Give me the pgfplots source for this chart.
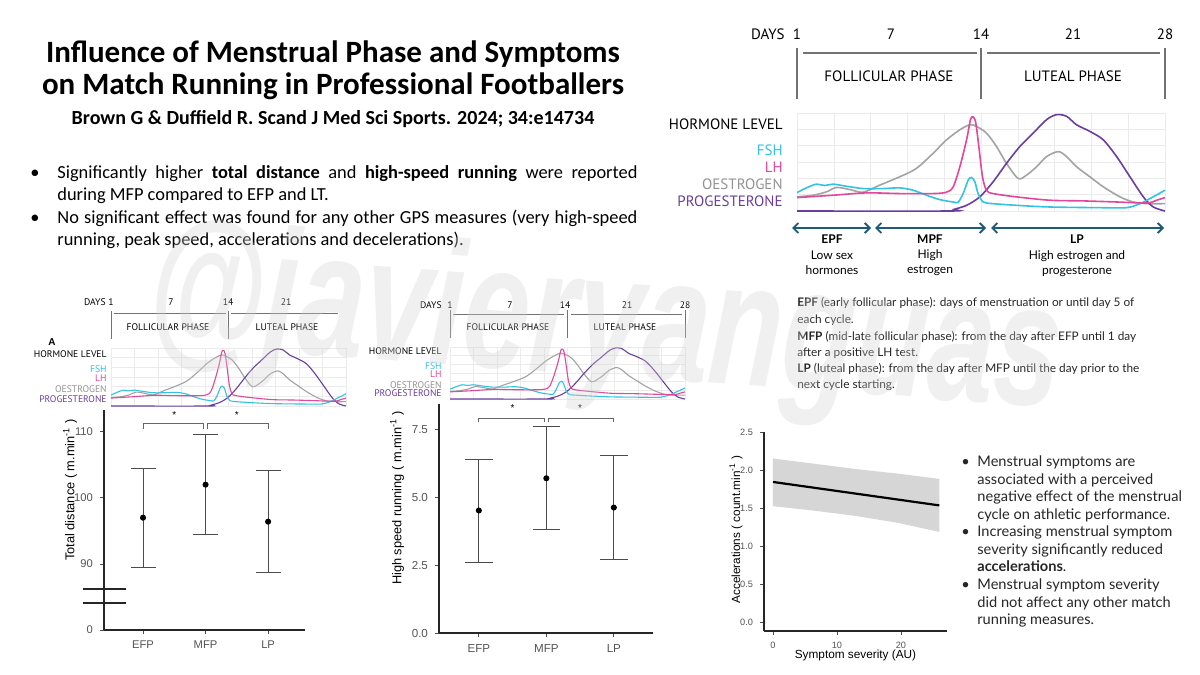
\documentclass[border=0pt]{standalone}
\usepackage{pgfplots}
\pgfplotsset{compat=1.18}
\usepackage{pgfplotstable}
\usepackage{fontspec}
\usetikzlibrary{arrows.meta}
\setmainfont{Carlito}
\newfontfamily\arial{Liberation Sans}
\newfontfamily\hfont{PT Sans}
\newfontfamily\apt{Lato}

\definecolor{fsh}{HTML}{33C2E2}
\definecolor{lh}{HTML}{E0489C}
\definecolor{oes}{HTML}{A3A3A3}
\definecolor{prog}{HTML}{6A3E9E}
\definecolor{arrowc}{HTML}{1E5B78}
\definecolor{ticktxt}{HTML}{555555}

% hormone curves: day of cycle vs relative level
\pgfplotstableread{
day lvl
1.00 0
12.21 0
12.46 1.4
13.44 5.8
14.41 14.4
15.39 29.8
16.37 48.6
17.35 65.8
18.33 79.5
19.31 93.2
20.05 98.3
20.78 96.6
21.51 88.0
22.49 81.2
23.47 72.6
24.45 55.5
25.43 34.9
26.41 14.4
27.14 4.1
28.00 0
}\tprog
\pgfplotstableread{
day lvl
1.00 14.4
2.17 16.1
3.15 19.5
3.89 24.0
4.87 21.9
5.85 19.2
7.07 26.4
8.54 34.9
9.76 43.5
10.99 58.9
11.97 72.6
12.95 82.9
13.68 88.0
14.17 86.3
14.90 79.5
15.64 65.8
16.37 48.6
17.23 33.2
17.84 36.6
18.58 45.2
19.31 55.5
20.17 60.6
20.78 55.5
21.51 45.2
22.49 34.9
23.47 24.7
24.70 14.4
25.67 9.2
26.65 7.5
28.00 7.5
}\toes
\pgfplotstableread{
day lvl
1.00 13.7
3.64 16.1
6.09 18.5
8.54 17.8
10.99 17.8
11.97 19.2
12.46 24.7
12.95 45.2
13.44 72.6
13.73 93.2
13.93 95.9
14.12 89.7
14.37 62.3
14.61 34.9
14.90 21.2
15.39 17.8
17.11 14.4
19.55 11.0
22.00 10.3
24.45 9.2
26.65 8.2
27.39 11.0
28.00 13.7
}\tlh
\pgfplotstableread{
day lvl
1.00 18.8
1.69 23.6
2.42 27.4
3.03 26.0
3.64 27.4
4.62 25.3
5.85 22.9
7.32 22.9
8.54 23.6
9.52 21.2
10.50 16.1
11.48 11.6
12.46 9.2
12.82 8.9
13.19 17.8
13.56 31.5
13.80 34.2
14.05 29.8
14.29 17.8
14.66 9.2
15.39 7.5
17.11 5.8
19.55 4.1
23.22 3.4
25.18 3.4
26.16 7.5
26.90 12.7
28.00 21.2
}\tfsh

\pgfplotsset{
  hormone/.style={scale only axis, anchor=south west, xmin=1, xmax=28, ymin=0, ymax=100,
    axis line style={draw=none}, major tick length=0pt, xticklabels={}, yticklabels={},
    xtick={1,3.7,6.4,9.1,11.8,14.5,17.2,19.9,22.6,25.3,28},
    ytick={0,16.67,33.33,50,66.67,83.33,100},
    grid=major, major grid style={black!8, line width=0.3pt}, clip=false},
  chart/.style={scale only axis, anchor=south west, axis x line*=bottom, axis y line*=left,
    axis line style={black!85, line width=0.6pt, -}, tick align=outside, major tick length=2pt,
    tick style={black!70, line width=0.4pt},
    tick label style={font=\arial\fontsize{5.6}{6}\selectfont, text=ticktxt},
    label style={font=\arial\fontsize{6.4}{7}\selectfont},
    xtick={1,2,3}, xticklabels={EFP,MFP,LP}, clip=false}
}
\newcommand{\hormonecurves}[1]{%
  \addplot[oes, line width=#1, smooth, no markers] table {\toes};
  \addplot[prog, line width=#1, smooth, no markers] table {\tprog};
  \addplot[fsh, line width=#1, smooth, no markers] table {\tfsh};
  \addplot[lh, line width=#1, smooth, no markers] table {\tlh};
}

\begin{document}
% canvas: 1200x675 px, 1 px = 0.5pt; axes are placed in pt (x/2, -y/2)
\begin{tikzpicture}
\begin{scope}[x=0.5pt, y=-0.5pt]
\useasboundingbox (0,0) rectangle (1200,675);
\fill[white] (0,0) rectangle (1200,675);

% title block
\node[anchor=base, inner sep=0, font=\bfseries\fontsize{15.5}{17}\selectfont] at (333,62) {Influence of Menstrual Phase and Symptoms};
\node[anchor=base, inner sep=0, font=\bfseries\fontsize{15.5}{17}\selectfont] at (333,94) {on Match Running in Professional Footballers};
\node[anchor=base, inner sep=0, font=\bfseries\fontsize{10}{11}\selectfont] at (333,124) {Brown G \& Duffield R. Scand J Med Sci Sports. 2024; 34:e14734};

\begin{scope}[font=\fontsize{9.2}{11}\selectfont]
\node[anchor=base west, inner sep=0] at (30,178) {•};
\node[anchor=base west, inner sep=0] at (30,223) {•};
\node[anchor=base west, inner sep=0] at (57,178) {\makebox[290pt][s]{Significantly higher \textbf{total distance} and \textbf{high-speed running} were reported}};
\node[anchor=base west, inner sep=0] at (57,200) {during MFP compared to EFP and LT.};
\node[anchor=base west, inner sep=0] at (57,223) {\makebox[290pt][s]{No significant effect was found for any other GPS measures (very high-speed}};
\node[anchor=base west, inner sep=0] at (57,245) {running, peak speed, accelerations and decelerations).};
\end{scope}

% top-right cycle diagram labels
\begin{scope}[font=\hfont\fontsize{7.5}{8}\selectfont]
\node[anchor=base east, inner sep=0] at (785,39) {DAYS};
\node[anchor=base, inner sep=0] at (797,39) {1};
\node[anchor=base, inner sep=0] at (891,39) {7};
\node[anchor=base, inner sep=0] at (981,39) {14};
\node[anchor=base, inner sep=0] at (1073,39) {21};
\node[anchor=base, inner sep=0] at (1165,39) {28};
\draw[black!55, line width=0.6pt] (797,48) -- (797,99) (981,48) -- (981,99) (1165,48) -- (1165,99);
\draw[black!55, line width=0.6pt] (803,53) -- (977,53) (987,53) -- (1160,53);
\node[anchor=base, inner sep=0] at (889,81) {FOLLICULAR PHASE};
\node[anchor=base, inner sep=0] at (1073,81) {LUTEAL PHASE};
\node[anchor=base east, inner sep=0] at (783,129) {HORMONE LEVEL};
\node[anchor=base east, inner sep=0, text=fsh] at (783,155) {FSH};
\node[anchor=base east, inner sep=0, text=lh] at (783,172) {LH};
\node[anchor=base east, inner sep=0, text=oes!90!black] at (783,189) {OESTROGEN};
\node[anchor=base east, inner sep=0, text=prog] at (783,206) {PROGESTERONE};
\end{scope}
\begin{scope}[arrowc, line width=0.9pt, {Straight Barb[length=2.5pt,width=5pt]}-{Straight Barb[length=2.5pt,width=5pt]}]
\draw (792,228) -- (871,228);
\draw (875,228) -- (986,228);
\draw (991,228) -- (1164,228);
\end{scope}
\begin{scope}[font=\apt\fontsize{6}{7}\selectfont]
\node[anchor=base, inner sep=0] at (832,243) {\textbf{EPF}};
\node[anchor=base, inner sep=0] at (832,259) {Low sex};
\node[anchor=base, inner sep=0] at (832,274) {hormones};
\node[anchor=base, inner sep=0] at (930,243) {\textbf{MPF}};
\node[anchor=base, inner sep=0] at (930,258) {High};
\node[anchor=base, inner sep=0] at (930,273) {estrogen};
\node[anchor=base, inner sep=0] at (1077,243) {\textbf{LP}};
\node[anchor=base, inner sep=0] at (1077,259) {High estrogen and};
\node[anchor=base, inner sep=0] at (1077,274) {progesterone};
\end{scope}

% phase definitions
\begin{scope}[font=\apt\fontsize{5.9}{7}\selectfont, text=black!85]
\node[anchor=base west, inner sep=0] at (797,306) {\textbf{EPF} (early follicular phase): days of menstruation or until day 5 of};
\node[anchor=base west, inner sep=0] at (797,323) {each cycle.};
\node[anchor=base west, inner sep=0] at (797,340) {\textbf{MFP} (mid-late follicular phase): from the day after EFP until 1 day};
\node[anchor=base west, inner sep=0] at (797,356) {after a positive LH test.};
\node[anchor=base west, inner sep=0] at (797,372) {\textbf{LP} (luteal phase): from the day after MFP until the day prior to the};
\node[anchor=base west, inner sep=0] at (797,388) {next cycle starting.};
\end{scope}

% left small cycle diagram labels
\begin{scope}[font=\hfont\fontsize{4.8}{5}\selectfont]
\node[anchor=base west, inner sep=0, font=\arial\bfseries\fontsize{5}{5}\selectfont] at (48,345) {A};
\node[anchor=base east, inner sep=0] at (106,305) {DAYS};
\node[anchor=base, inner sep=0] at (111,305) {1};
\node[anchor=base, inner sep=0] at (171,305) {7};
\node[anchor=base, inner sep=0] at (228,305) {14};
\node[anchor=base, inner sep=0] at (286,305) {21};
\draw[black!55, line width=0.5pt] (111,311) -- (111,339) (228,311) -- (228,339);
\draw[black!55, line width=0.5pt] (114,313) -- (226,313) (231,313) -- (338,313);
\node[anchor=base, inner sep=0] at (168,330) {FOLLICULAR PHASE};
\node[anchor=base, inner sep=0] at (287,330) {LUTEAL PHASE};
\node[anchor=base east, inner sep=0] at (107,357.5) {HORMONE LEVEL};
\node[anchor=base east, inner sep=0, text=fsh] at (107,372.5) {FSH};
\node[anchor=base east, inner sep=0, text=lh] at (107,381.5) {LH};
\node[anchor=base east, inner sep=0, text=oes!90!black] at (107,392) {OESTROGEN};
\node[anchor=base east, inner sep=0, text=prog] at (107,402) {PROGESTERONE};
\end{scope}

% middle small cycle diagram labels
\begin{scope}[font=\hfont\fontsize{4.8}{5}\selectfont]
\node[anchor=base east, inner sep=0] at (442,308) {DAYS};
\node[anchor=base, inner sep=0] at (450,308) {1};
\node[anchor=base, inner sep=0] at (510,308) {7};
\node[anchor=base, inner sep=0] at (565,308) {14};
\node[anchor=base, inner sep=0] at (627,308) {21};
\node[anchor=base, inner sep=0] at (685,308) {28};
\draw[black!55, line width=0.5pt] (450,310) -- (450,338) (567,310) -- (567,338) (685,310) -- (685,338);
\draw[black!55, line width=0.5pt] (453,314) -- (564,314) (571,314) -- (682,314);
\node[anchor=base, inner sep=0] at (508,330) {FOLLICULAR PHASE};
\node[anchor=base, inner sep=0] at (625,330) {LUTEAL PHASE};
\node[anchor=base east, inner sep=0] at (442,354.5) {HORMONE LEVEL};
\node[anchor=base east, inner sep=0, text=fsh] at (442,369) {FSH};
\node[anchor=base east, inner sep=0, text=lh] at (442,377.5) {LH};
\node[anchor=base east, inner sep=0, text=oes!90!black] at (442,388) {OESTROGEN};
\node[anchor=base east, inner sep=0, text=prog] at (442,396.5) {PROGESTERONE};
\end{scope}

% right notes
\begin{scope}[font=\apt\fontsize{7.3}{8}\selectfont, text=black!85]
\node[anchor=base west, inner sep=0] at (961,466) {•};
\node[anchor=base west, inner sep=0] at (961,536) {•};
\node[anchor=base west, inner sep=0] at (961,589) {•};
\node[anchor=base west, inner sep=0] at (977,466) {Menstrual symptoms are};
\node[anchor=base west, inner sep=0] at (977,484) {associated with a perceived};
\node[anchor=base west, inner sep=0] at (977,501) {negative effect of the menstrual};
\node[anchor=base west, inner sep=0] at (977,519) {cycle on athletic performance.};
\node[anchor=base west, inner sep=0] at (977,536) {Increasing menstrual symptom};
\node[anchor=base west, inner sep=0] at (977,554) {severity significantly reduced};
\node[anchor=base west, inner sep=0] at (977,571) {\textbf{accelerations}.};
\node[anchor=base west, inner sep=0] at (977,589) {Menstrual symptom severity};
\node[anchor=base west, inner sep=0] at (977,607) {did not affect any other match};
\node[anchor=base west, inner sep=0] at (977,624) {running measures.};
\end{scope}
\end{scope}

% top-right cycle diagram
\begin{axis}[hormone, at={(398.5pt,-105.5pt)}, width=184pt, height=49pt]
\hormonecurves{0.8pt}
\end{axis}

% left small cycle diagram
\begin{axis}[hormone, at={(55.5pt,-203pt)}, width=117.5pt, height=29pt]
\hormonecurves{0.55pt}
\end{axis}

% middle small cycle diagram
\begin{axis}[hormone, at={(225pt,-199.5pt)}, width=117.5pt, height=26pt]
\hormonecurves{0.55pt}
\end{axis}

% total distance by phase (mean and error bar)
\begin{axis}[chart, at={(52pt,-315pt)}, width=100.5pt, height=110pt,
  xmin=0.376, xmax=3.59, ymin=80, ymax=113.3,
  ytick={80,90,100,110}, yticklabels={0,90,100,110},
  ylabel={Total distance ( m.min\textsuperscript{-1} )},
  ylabel style={at={(axis description cs:-0.169,0.636)}, anchor=center}]
\addplot[black, only marks, mark=*, mark size=1.3pt,
  error bars/.cd, y dir=both, y explicit,
  error bar style={black!70, line width=0.5pt},
  error mark options={rotate=90, mark size=6.25pt, black!70, line width=0.5pt}]
  coordinates {(1,97.0) +- (0,7.5) (2,102.0) +- (0,7.6) (3,96.4) +- (0,7.7)};
\draw[black!85, line width=0.6pt] (axis cs:0.04,86.2) -- (axis cs:0.728,86.2);
\draw[black!85, line width=0.6pt] (axis cs:0.04,84.1) -- (axis cs:0.728,84.1);
\draw[black!60, line width=0.5pt] (axis cs:1,110.45) -- (axis cs:1,111.2) -- (axis cs:1.97,111.2) -- (axis cs:1.97,110.45);
\draw[black!60, line width=0.5pt] (axis cs:2.03,110.45) -- (axis cs:2.03,111.2) -- (axis cs:3,111.2) -- (axis cs:3,110.45);
\node[font=\arial\fontsize{5}{5}\selectfont] at (axis cs:1.5,112.6) {*};
\node[font=\arial\fontsize{5}{5}\selectfont] at (axis cs:2.5,112.6) {*};
\end{axis}

% high speed running by phase
\begin{axis}[chart, at={(219.5pt,-316.5pt)}, width=107pt, height=114.5pt,
  xmin=0.41, xmax=3.58, ymin=0, ymax=8.45,
  ytick={0,2.5,5,7.5}, yticklabels={0.0,2.5,5.0,7.5},
  tick label style={font=\arial\fontsize{5.8}{6}\selectfont},
  ylabel={High speed running ( m.min\textsuperscript{-1} )},
  ylabel style={at={(axis description cs:-0.196,0.59)}, anchor=center}]
\addplot[black, only marks, mark=*, mark size=1.3pt,
  error bars/.cd, y dir=both, y explicit,
  error bar style={black!70, line width=0.5pt},
  error mark options={rotate=90, mark size=6.9pt, black!70, line width=0.5pt}]
  coordinates {(1,4.52) +- (0,1.9) (2,5.71) +- (0,1.9) (3,4.63) +- (0,1.91)};
\draw[black!60, line width=0.5pt] (axis cs:1,7.77) -- (axis cs:1,7.93) -- (axis cs:1.97,7.93) -- (axis cs:1.97,7.77);
\draw[black!60, line width=0.5pt] (axis cs:2.03,7.77) -- (axis cs:2.03,7.93) -- (axis cs:3,7.93) -- (axis cs:3,7.77);
\node[font=\arial\fontsize{5}{5}\selectfont] at (axis cs:1.5,8.3) {*};
\node[font=\arial\fontsize{5}{5}\selectfont] at (axis cs:2.5,8.3) {*};
\end{axis}

% accelerations vs symptom severity
\begin{axis}[chart, at={(382pt,-315.5pt)}, width=91.5pt, height=99.5pt,
  xmin=-1.4, xmax=27.2, ymin=-0.12, ymax=2.51,
  xtick={0,10,20}, xticklabels={0,10,20},
  ytick={0,0.5,1,1.5,2,2.5}, yticklabels={0.0,0.5,1.0,1.5,2.0,2.5},
  tick label style={font=\arial\fontsize{4.6}{5}\selectfont},
  label style={font=\arial\fontsize{5.9}{6}\selectfont},
  xlabel={Symptom severity (AU)},
  xlabel style={at={(axis description cs:0.5,-0.125)}, anchor=center},
  ylabel={Accelerations ( count.min\textsuperscript{-1} )},
  ylabel style={at={(axis description cs:-0.153,0.51)}, anchor=center}]
\addplot[fill=black!16, draw=none] coordinates {(0,2.16) (6.5,2.09) (13,2.02) (19.5,1.96) (26,1.89) (26,1.19) (19.5,1.31) (13,1.40) (6.5,1.47) (0,1.53)};
\addplot[black, line width=1.1pt] coordinates {(0,1.85) (26,1.54)};
\end{axis}

% watermark
\node[rotate=-4, text=black!18, text opacity=0.32, inner sep=0] at (302.5pt,-165pt)
  {\scalebox{0.68}[1]{\arial\bfseries\itshape\fontsize{88}{88}\selectfont @javieryanguas}};
\end{tikzpicture}
\end{document}
